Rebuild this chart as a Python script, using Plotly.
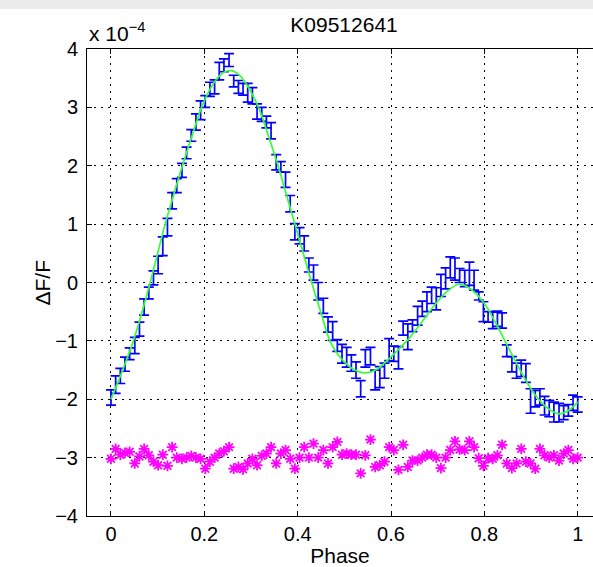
import plotly.graph_objects as go

# ---------------- data (units of 1e-4) ----------------
phase = [0.000, 0.010, 0.020, 0.030, 0.040, 0.051, 0.061, 0.071, 0.081, 0.091,
         0.101, 0.111, 0.121, 0.131, 0.141, 0.152, 0.162, 0.172, 0.182, 0.192,
         0.202, 0.212, 0.222, 0.232, 0.242, 0.253, 0.263, 0.273, 0.283, 0.293,
         0.303, 0.313, 0.323, 0.333, 0.343, 0.354, 0.364, 0.374, 0.384, 0.394,
         0.404, 0.414, 0.424, 0.434, 0.444, 0.455, 0.465, 0.475, 0.485, 0.495,
         0.505, 0.515, 0.525, 0.535, 0.545, 0.556, 0.566, 0.576, 0.586, 0.596,
         0.606, 0.616, 0.626, 0.636, 0.646, 0.657, 0.667, 0.677, 0.687, 0.697,
         0.707, 0.717, 0.727, 0.737, 0.747, 0.758, 0.768, 0.778, 0.788, 0.798,
         0.808, 0.818, 0.828, 0.838, 0.848, 0.859, 0.869, 0.879, 0.889, 0.899,
         0.909, 0.919, 0.929, 0.939, 0.949, 0.960, 0.970, 0.980, 0.990, 1.000]

flux = [-1.97, -1.75, -1.60, -1.40, -1.22, -1.08, -0.80, -0.42, -0.18, 0.08,
        0.30, 0.62, 0.95, 1.40, 1.66, 1.92, 2.22, 2.52, 2.75, 2.95,
        3.10, 3.31, 3.35, 3.62, 3.72, 3.81, 3.45, 3.35, 3.31, 3.25,
        3.20, 2.93, 2.88, 2.75, 2.60, 2.06, 1.98, 1.76, 1.35, 0.87,
        0.80, 0.67, 0.30, 0.17, -0.15, -0.40, -0.72, -0.83, -1.08, -1.22,
        -1.28, -1.38, -1.50, -1.82, -1.30, -1.26, -1.67, -1.62, -1.51, -1.15,
        -1.22, -1.29, -0.78, -0.93, -0.74, -0.57, -0.45, -0.33, -0.22, -0.28,
        -0.05, 0.07, 0.26, 0.23, 0.12, 0.07, 0.15, 0.04, -0.23, -0.50,
        -0.59, -0.65, -0.62, -0.65, -1.17, -1.40, -1.51, -1.47, -1.55, -2.03,
        -1.99, -1.96, -2.11, -2.16, -2.22, -2.23, -2.23, -2.19, -2.06, -2.09]

flux_err = [0.13, 0.15, 0.13, 0.12, 0.10, 0.14, 0.12, 0.14, 0.10, 0.12,
            0.15, 0.16, 0.15, 0.14, 0.12, 0.12, 0.10, 0.10, 0.14, 0.16,
            0.10, 0.12, 0.12, 0.15, 0.11, 0.11, 0.10, 0.11, 0.10, 0.16,
            0.14, 0.13, 0.12, 0.10, 0.14, 0.13, 0.09, 0.13, 0.14, 0.14,
            0.14, 0.13, 0.12, 0.13, 0.15, 0.13, 0.13, 0.16, 0.10, 0.16,
            0.17, 0.14, 0.14, 0.14, 0.15, 0.15, 0.17, 0.18, 0.13, 0.19,
            0.13, 0.19, 0.12, 0.22, 0.10, 0.16, 0.13, 0.17, 0.14, 0.19,
            0.19, 0.18, 0.18, 0.19, 0.12, 0.14, 0.20, 0.17, 0.07, 0.17,
            0.09, 0.14, 0.13, 0.13, 0.10, 0.13, 0.13, 0.14, 0.16, 0.21,
            0.14, 0.14, 0.16, 0.14, 0.17, 0.16, 0.12, 0.10, 0.13, 0.13]

residual = [-3.02, -2.85, -2.95, -2.92, -2.90, -3.10, -2.98, -2.85, -2.96, -3.07,
            -3.13, -2.95, -3.14, -2.82, -3.00, -3.02, -3.00, -2.97, -3.00, -3.02,
            -3.19, -3.07, -3.00, -2.93, -2.89, -2.82, -3.19, -3.16, -3.20, -3.10,
            -3.02, -3.13, -2.97, -2.93, -2.82, -3.10, -2.93, -2.87, -3.02, -3.19,
            -3.00, -2.82, -3.00, -2.76, -3.00, -2.87, -3.10, -2.82, -2.73, -2.95,
            -2.93, -2.95, -2.95, -3.27, -2.96, -2.69, -3.16, -3.13, -3.07, -2.82,
            -2.87, -3.21, -2.78, -3.16, -3.05, -3.05, -3.00, -2.95, -2.95, -3.00,
            -3.18, -3.00, -2.87, -2.72, -2.86, -2.87, -2.72, -2.82, -3.01, -3.14,
            -3.01, -3.02, -2.96, -2.78, -3.10, -3.18, -3.10, -2.85, -3.07, -3.10,
            -3.19, -2.85, -2.96, -3.00, -2.96, -3.05, -2.93, -2.87, -3.02, -3.00]

fit_phase = [0.000, 0.024, 0.048, 0.066, 0.084, 0.100, 0.116, 0.135, 0.153, 0.174,
             0.194, 0.210, 0.225, 0.242, 0.258, 0.274, 0.290, 0.316, 0.337, 0.358,
             0.376, 0.394, 0.412, 0.430, 0.450, 0.469, 0.485, 0.500, 0.522, 0.544,
             0.567, 0.590, 0.612, 0.634, 0.662, 0.690, 0.718, 0.745, 0.772, 0.800,
             0.822, 0.844, 0.862, 0.880, 0.898, 0.916, 0.940, 0.962, 0.981, 1.000]
fit_flux = [-2.00, -1.52, -1.00, -0.52, 0.00, 0.50, 1.00, 1.52, 2.00, 2.52,
            3.00, 3.28, 3.47, 3.60, 3.63, 3.56, 3.40, 3.00, 2.52, 2.00,
            1.50, 1.00, 0.50, 0.00, -0.52, -1.00, -1.22, -1.36, -1.50, -1.55,
            -1.50, -1.35, -1.18, -1.00, -0.72, -0.42, -0.17, -0.03, -0.12, -0.36,
            -0.66, -1.00, -1.28, -1.55, -1.80, -2.00, -2.18, -2.25, -2.19, -2.05]

x_ticks = [0, 0.2, 0.4, 0.6, 0.8, 1]
y_ticks = [-4, -3, -2, -1, 0, 1, 2, 3, 4]
title_text = "K09512641"
x_label = "Phase"
y_label = "\u0394F/F"
exponent_text = "x 10<sup>\u22124</sup>"

# ---------------- figure ----------------
FONT = "Liberation Sans, Arial, Helvetica, sans-serif"

fig = go.Figure()

fig.add_trace(go.Scatter(
    x=phase, y=flux, mode="markers",
    marker=dict(size=2, color="rgba(60,60,255,0.6)"),
    error_y=dict(type="data", array=flux_err, visible=True,
                 color="#0000ff", thickness=1.7, width=5),
    hoverinfo="x+y", showlegend=False))

fig.add_trace(go.Scatter(
    x=fit_phase, y=fit_flux, mode="lines",
    line=dict(color="#33ff33", width=1.7, shape="spline", smoothing=1.0),
    showlegend=False))

fig.add_trace(go.Scatter(
    x=phase, y=residual, mode="markers",
    marker=dict(symbol="asterisk-open", size=9, color="#ff00ff",
                line=dict(color="#ff00ff", width=1.8)),
    showlegend=False))

axis_common = dict(
    showgrid=True, gridcolor="black", griddash="2px,5px", gridwidth=1,
    zeroline=False, showline=True, linecolor="black", linewidth=1,
    ticks="inside", ticklen=5, tickcolor="black", tickwidth=1,
    tickfont=dict(family=FONT, size=20, color="black"),
)

fig.update_xaxes(range=[-0.0514, 1.0328], tickvals=x_ticks,
                 ticktext=[str(t) for t in x_ticks],
                 mirror="ticks",
                 title=dict(text=x_label, font=dict(family=FONT, size=21, color="black"),
                            standoff=1),
                 **axis_common)
fig.update_yaxes(range=[-4, 4], tickvals=y_ticks,
                 ticktext=[str(t).replace("-", "\u2212") for t in y_ticks],
                 ticklabelstandoff=4,
                 **axis_common)

fig.update_layout(
    width=593, height=567,
    margin=dict(l=87, r=0, t=49, b=51, autoexpand=False),
    paper_bgcolor="white", plot_bgcolor="white",
    title=dict(text=title_text, x=0.508, xref="paper", xanchor="center",
               y=1 - 25 / 567, yref="container", yanchor="middle",
               font=dict(family=FONT, size=21, color="black")),
    annotations=[
        dict(text=exponent_text, xref="paper", yref="paper",
             x=0.0, y=1.004, xanchor="left", yanchor="bottom",
             showarrow=False, font=dict(family=FONT, size=21, color="black")),
        dict(text=y_label, xref="paper", yref="paper",
             x=(42 - 87) / 506, y=0.5, xanchor="center", yanchor="middle",
             textangle=-90, showarrow=False,
             font=dict(family=FONT, size=21, color="black")),
    ],
    shapes=[dict(type="rect", xref="paper", yref="paper",
                 x0=-87 / 506, x1=1.0, y0=(516 - 9) / 467, y1=516 / 467,
                 fillcolor="#ececec", line=dict(width=0), layer="below")],
)

fig.write_html("out.html")
